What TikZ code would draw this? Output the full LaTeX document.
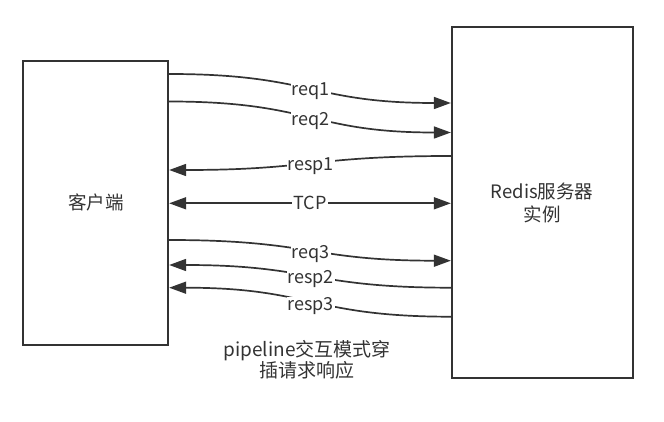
\documentclass[tikz,border=0pt]{standalone}
\usepackage{fontspec}
\setmainfont{Noto Sans CJK SC}
\usetikzlibrary{arrows.meta}
\definecolor{ink}{HTML}{333333}
\tikzset{
  box/.style={draw=ink, line width=1.7pt, fill=white, rectangle, inner sep=0pt, align=center, font=\fontsize{18.5}{23.5}\selectfont, text=ink},
  conn/.style={draw=ink, line width=1.7pt, -{Triangle[length=17pt,width=12pt]}},
  biconn/.style={draw=ink, line width=1.7pt, {Triangle[length=17pt,width=12pt]}-{Triangle[length=17pt,width=12pt]}},
  lbl/.style={fill=white, inner sep=1pt, font=\fontsize{18}{20}\selectfont, text=ink},
}
\begin{document}
\begin{tikzpicture}[x=1pt,y=-1pt]
\useasboundingbox (0,0) rectangle (664,422);
\node[box, minimum width=145pt, minimum height=284pt] (client) at (95.8,202.8) {客户端};
\node[box, minimum width=181pt, minimum height=351pt] (server) at (542.2,202.8) {Redis服务器\\实例};
% req1
\coordinate (c1) at (client.east |- 0,74);
\coordinate (s1) at (server.west |- 0,103);
\draw[conn] (c1) .. controls (311,74) and (311,103) .. node[lbl, yshift=-3pt] {req1} (s1);
% req2
\coordinate (c2) at (client.east |- 0,101.5);
\coordinate (s2) at (server.west |- 0,132.5);
\draw[conn] (c2) .. controls (311,101.5) and (311,132.5) .. node[lbl, yshift=-4pt] {req2} (s2);
% resp1
\coordinate (s3) at (server.west |- 0,156);
\coordinate (c3) at (client.east |- 0,170);
\draw[conn] (s3) .. controls (311,156) and (311,170) .. node[lbl, yshift=-3pt] {resp1} (c3);
% TCP
\coordinate (c4) at (client.east |- 0,203.3);
\coordinate (s4) at (server.west |- 0,203.3);
\draw[biconn] (c4) -- node[lbl] {TCP} (s4);
% req3
\coordinate (c5) at (client.east |- 0,240);
\coordinate (s5) at (server.west |- 0,260.7);
\draw[conn] (c5) .. controls (311,240) and (311,260.7) .. node[lbl, yshift=-4pt] {req3} (s5);
% resp2
\coordinate (s6) at (server.west |- 0,287.7);
\coordinate (c6) at (client.east |- 0,265);
\draw[conn] (s6) .. controls (311,287.7) and (311,265) .. node[lbl, yshift=-3pt] {resp2} (c6);
% resp3
\coordinate (s7) at (server.west |- 0,316.7);
\coordinate (c7) at (client.east |- 0,287.7);
\draw[conn] (s7) .. controls (311,316.7) and (311,287.7) .. node[lbl, yshift=-4pt] {resp3} (c7);
% caption
\node[align=center, font=\fontsize{19}{21}\selectfont, text=ink, inner sep=0pt] (cap) at (307,360) {pipeline交互模式穿\\插请求响应};
\end{tikzpicture}
\end{document}
